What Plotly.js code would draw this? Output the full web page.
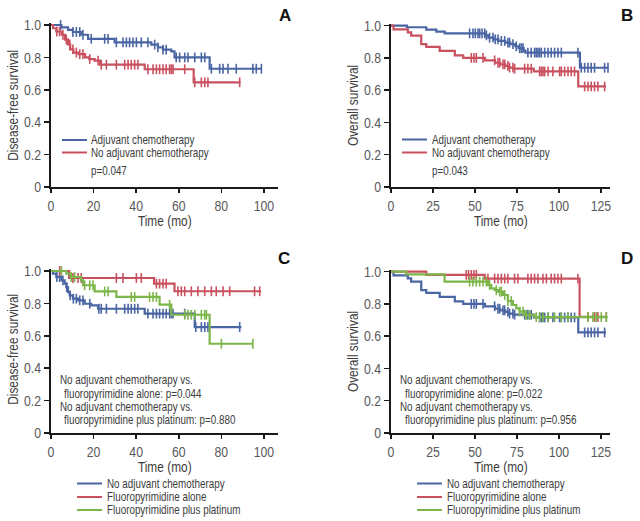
<!DOCTYPE html>
<html>
<head>
<meta charset="utf-8">
<script src="https://cdn.plot.ly/plotly-3.0.1.min.js"></script>
<style>html,body{margin:0;padding:0;background:#fff}#chart{width:640px;height:521px}</style>
</head>
<body>
<div id="chart"></div>
<script>
// ---------- DATA ----------
// Panel A: Disease-free survival, adjuvant vs no adjuvant
const aBlueT = [0, 4.9, 8.0, 10.3, 14.2, 17.4, 29.9, 47.1, 50.2, 52.6, 56.5, 58.0, 74.5, 98.8];
const aBlueS = [1.0, 0.986, 0.97, 0.957, 0.94, 0.915, 0.893, 0.879, 0.862, 0.848, 0.837, 0.80, 0.73, 0.73];
const aBlueCens = [4.5, 10.3, 11.9, 13.5, 15.0, 18.9, 25.2, 26.8, 30.7, 33.8, 35.4, 36.9, 38.5, 40.1, 42.4, 45.5, 48.7, 50.2, 52.6, 54.1, 58.8, 60.4, 62.8, 64.3, 67.5, 70.6, 72.2, 75.3, 79.2, 80.8, 83.1, 87.0, 94.8, 96.4, 98.8];
const aRedT = [0, 1, 2.5, 5, 6.5, 8, 9, 10.5, 13, 16, 18, 20.5, 23, 44, 67, 89];
const aRedS = [1, 0.98, 0.96, 0.94, 0.91, 0.88, 0.85, 0.83, 0.82, 0.80, 0.79, 0.78, 0.755, 0.727, 0.646, 0.646];
const aRedCens = [2.7, 4.0, 5.6, 7.2, 8.8, 10.3, 11.9, 13.5, 15.0, 18.2, 22.1, 23.6, 26.0, 30.7, 34.6, 36.2, 37.7, 39.3, 40.8, 45.5, 47.9, 49.5, 51.0, 52.6, 54.1, 55.7, 56.5, 57.3, 62.8, 67.5, 70.6, 72.2, 73.7, 88.6];

// Panel B: Overall survival, adjuvant vs no adjuvant
const bBlueT = [0, 9.5, 21, 27, 32, 56, 58, 61, 64, 68, 71, 74, 76, 79, 80, 112.5, 129.5];
const bBlueS = [1.0, 0.99, 0.975, 0.963, 0.952, 0.94, 0.925, 0.915, 0.905, 0.895, 0.885, 0.872, 0.86, 0.845, 0.833, 0.739, 0.739];
const bBlueCens = [46.8, 48.8, 50.2, 51.8, 52.8, 54.2, 55.8, 56.8, 58.7, 60.7, 62.1, 63.7, 65.7, 67.7, 69.6, 70.6, 72.6, 74.6, 76.6, 77.6, 78.6, 81.5, 83.5, 85.5, 86.5, 87.5, 88.5, 89.5, 91.5, 93.5, 95.4, 97.4, 99.4, 101.4, 111.3, 113.3, 115.3, 117.3, 119.2, 121.2, 127.2, 129.2];
const bRedT = [0, 1.5, 10, 12, 18, 21, 29, 38, 43, 56, 62, 65, 68, 70, 73, 85, 111.5, 128];
const bRedS = [1.0, 0.977, 0.958, 0.938, 0.885, 0.868, 0.843, 0.815, 0.80, 0.785, 0.77, 0.76, 0.75, 0.74, 0.733, 0.716, 0.623, 0.623];
const bRedCens = [47.8, 49.4, 50.8, 54.8, 61.7, 63.7, 64.7, 66.7, 67.7, 69.6, 70.6, 72.6, 73.6, 79.6, 81.5, 83.5, 88.5, 89.5, 90.5, 91.5, 93.5, 96.4, 100.4, 101.4, 103.4, 105.4, 107.3, 109.3, 115.3, 117.3, 119.2, 121.2, 123.2, 127.2];

// Panel C: Disease-free survival by regimen
const cBlueT = [0, 0.9, 2.5, 4.9, 6.4, 7.2, 8.0, 8.8, 10.3, 12.7, 15.8, 18.9, 22.1, 44, 67.5, 89.4];
const cBlueS = [1, 0.984, 0.963, 0.942, 0.922, 0.90, 0.87, 0.85, 0.829, 0.819, 0.798, 0.788, 0.767, 0.737, 0.654, 0.654];
const cBlueCens = [2.7, 4.0, 5.6, 7.4, 9.0, 10.5, 11.9, 13.5, 15.0, 18.2, 22.5, 23.6, 26.0, 30.7, 34.6, 36.2, 37.7, 39.3, 40.8, 45.5, 47.9, 49.5, 51.0, 52.6, 54.1, 55.7, 56.5, 57.3, 62.8, 68.0, 70.6, 72.2, 73.7, 88.6];
const cRedT = [0, 8.5, 48.4, 58, 98.7];
const cRedS = [1, 0.957, 0.922, 0.875, 0.875];
const cRedCens = [4.1, 10.3, 12.7, 14.2, 30.7, 33.8, 40.1, 42.4, 49.5, 51.0, 52.6, 54.1, 59.6, 61.2, 62.8, 65.9, 69.0, 72.2, 75.3, 77.6, 80.8, 83.9, 95.6, 98.0];
const cGreenT = [0, 7.2, 9.2, 14.2, 15.0, 20.5, 30.7, 51.0, 56.5, 74.5, 94.8];
const cGreenS = [1, 0.984, 0.963, 0.942, 0.912, 0.874, 0.84, 0.792, 0.73, 0.551, 0.551];
const cGreenCens = [4.9, 9.5, 11.1, 15.8, 18.2, 19.7, 25.2, 26.8, 37.7, 39.3, 46.3, 47.9, 49.5, 55.7, 62.8, 64.3, 65.9, 67.5, 70.6, 72.2, 73.0, 80.0, 94.8];

// Panel D: Overall survival by regimen
const dBlueT = bRedT, dBlueS = bRedS, dBlueCens = bRedCens;
const dRedT = [0, 21, 55.8, 112.3, 128.2];
const dRedS = [1, 0.98, 0.957, 0.72, 0.72];
const dRedCens = [44.8, 46.2, 47.8, 49.4, 50.8, 57.7, 61.7, 63.7, 65.7, 67.7, 69.6, 73.6, 75.6, 81.5, 83.5, 85.5, 87.5, 90.5, 92.5, 95.4, 97.4, 99.4, 101.4, 111.3, 117.3, 121.2, 123.2, 128.2];
const dGreenT = [0, 9.1, 31.9, 57.7, 59.7, 61.7, 63.7, 66.7, 69.6, 72.6, 74.6, 76.6, 79.6, 85.5, 129];
const dGreenS = [1.0, 0.983, 0.938, 0.917, 0.896, 0.885, 0.876, 0.855, 0.818, 0.793, 0.772, 0.752, 0.731, 0.718, 0.718];
const dGreenCens = [46.8, 48.8, 50.8, 52.8, 54.8, 56.8, 58.7, 62.7, 64.7, 65.7, 67.7, 69.6, 71.6, 76.6, 78.6, 80.6, 82.5, 86.5, 88.5, 90.5, 93.5, 97.4, 101.4, 105.4, 117.3, 120.2, 122.2, 125.2, 128.2];

const yTicks = [0, 0.2, 0.4, 0.6, 0.8, 1.0];
const yTickText = ['0', '0.2', '0.4', '0.6', '0.8', '1.0'];
const xTicksDFS = [0, 20, 40, 60, 80, 100];
const xTicksOS = [0, 25, 50, 75, 100, 125];

const legendAB = ['Adjuvant chemotherapy', 'No adjuvant chemotherapy'];
const legendCD = ['No adjuvant chemotherapy', 'Fluoropyrimidine alone', 'Fluoropyrimidine plus platinum'];
const pA = 'p=0.047', pB = 'p=0.043';
const noteC = ['No adjuvant chemotherapy vs.', 'fluoropyrimidine alone: p=0.044', 'No adjuvant chemotherapy vs.', 'fluoropyrimidine plus platinum: p=0.880'];
const noteD = ['No adjuvant chemotherapy vs.', 'fluoropyrimidine alone: p=0.022', 'No adjuvant chemotherapy vs.', 'fluoropyrimidine plus platinum: p=0.956'];

// ---------- STYLE ----------
const BLUE = '#4a65a3', RED = '#c9515f', GREEN = '#7cb549';
const FONT = '"Liberation Sans", Arial, sans-serif';
const SQUEEZE = 0.82; // narrow (condensed) look of the original typeface
const W = 640, H = 521;
const px = x => x / W, py = y => 1 - y / H;

function survAt(T, S, t) {
  let v = S[0];
  for (let i = 0; i < T.length; i++) { if (t >= T[i]) v = S[i]; }
  return v;
}
const traces = [];
function curve(T, S, C, color, xa, ya) {
  traces.push({x: T, y: S, mode: 'lines', line: {shape: 'hv', color: color, width: 2.2},
    xaxis: xa, yaxis: ya, showlegend: false, hoverinfo: 'skip'});
  traces.push({x: C, y: C.map(t => survAt(T, S, t)), mode: 'markers',
    marker: {symbol: 'line-ns-open', size: 7, color: color, line: {width: 1.6, color: color}},
    xaxis: xa, yaxis: ya, showlegend: false, hoverinfo: 'skip', cliponaxis: false});
}
curve(aBlueT, aBlueS, aBlueCens, BLUE, 'x', 'y');
curve(aRedT, aRedS, aRedCens, RED, 'x', 'y');
curve(bBlueT, bBlueS, bBlueCens, BLUE, 'x2', 'y2');
curve(bRedT, bRedS, bRedCens, RED, 'x2', 'y2');
curve(cBlueT, cBlueS, cBlueCens, BLUE, 'x3', 'y3');
curve(cRedT, cRedS, cRedCens, RED, 'x3', 'y3');
curve(cGreenT, cGreenS, cGreenCens, GREEN, 'x3', 'y3');
curve(dBlueT, dBlueS, dBlueCens, BLUE, 'x4', 'y4');
curve(dRedT, dRedS, dRedCens, RED, 'x4', 'y4');
curve(dGreenT, dGreenS, dGreenCens, GREEN, 'x4', 'y4');

const tickFont = {family: FONT, size: 15, color: '#58595b'};
function xax(d0, d1, range, ticks, anchor) {
  return {domain: [px(d0), px(d1)], range: range, anchor: anchor, tickvals: ticks, ticktext: ticks.map(String),
    showline: true, linecolor: '#1a1a1a', linewidth: 2, ticks: 'outside', ticklen: 4, tickwidth: 1.5,
    tickcolor: '#1a1a1a', showgrid: false, zeroline: false, fixedrange: true, tickfont: tickFont};
}
function yax(y0, y1, anchor) {
  return {domain: [py(y0), py(y1)], range: [0, 1.01], anchor: anchor, tickvals: yTicks, ticktext: yTickText,
    showline: true, linecolor: '#1a1a1a', linewidth: 2, ticks: 'outside', ticklen: 5, tickwidth: 1.5,
    tickcolor: '#1a1a1a', showgrid: false, zeroline: false, fixedrange: true, tickfont: tickFont};
}

const ann = [];
const shapes = [];
function text(x, y, t, opts) {
  ann.push(Object.assign({xref: 'paper', yref: 'paper', x: px(x), y: py(y), text: t, showarrow: false,
    xanchor: 'left', align: 'left', yanchor: 'middle', borderpad: 0, borderwidth: 0,
    font: {family: FONT, size: 12, color: '#3c3c3c'}}, opts || {}));
}
function legLine(x0, x1, y, color) {
  shapes.push({type: 'line', xref: 'paper', yref: 'paper', x0: px(x0), x1: px(x1), y0: py(y), y1: py(y),
    line: {color: color, width: 2}});
}
// panel letters
const bold = {family: FONT, size: 17, color: '#111'};
const letterOpts = {xanchor: 'center', align: 'center', font: bold};
text(285, 15, '<b>A</b>', letterOpts);
text(627, 15, '<b>B</b>', letterOpts);
text(284, 258, '<b>C</b>', letterOpts);
text(627, 258, '<b>D</b>', letterOpts);
// axis titles
const titleFont = {family: FONT, size: 14.5, color: '#3c3c3c'};
const cTitle = {xanchor: 'center', align: 'center', font: titleFont};
const vTitle = {xanchor: 'center', align: 'center', textangle: -90, font: titleFont};
text(164.5, 221, 'Time (mo)', cTitle);
text(500.5, 221, 'Time (mo)', cTitle);
text(164.5, 466.5, 'Time (mo)', cTitle);
text(500.5, 466.5, 'Time (mo)', cTitle);
text(13, 106, 'Disease-free survival', vTitle);
text(353, 106, 'Overall survival', vTitle);
text(13, 350, 'Disease-free survival', vTitle);
text(353, 352, 'Overall survival', vTitle);
// legends A/B
legLine(62, 87, 140, BLUE); legLine(62, 87, 152.5, RED);
text(91, 139.5, legendAB[0]); text(91, 152.5, legendAB[1]); text(91, 171, pA);
legLine(402, 427, 139.5, BLUE); legLine(402, 427, 152.5, RED);
text(431.5, 139.5, legendAB[0]); text(431.5, 152.5, legendAB[1]); text(431.5, 171, pB);
// notes C/D
const ny = [380, 393.5, 407, 420];
text(60, ny[0], noteC[0]); text(64, ny[1], noteC[1]);
text(60, ny[2], noteC[2]); text(64, ny[3], noteC[3]);
text(400, ny[0], noteD[0]); text(404.5, ny[1], noteD[1]);
text(400, ny[2], noteD[2]); text(404.5, ny[3], noteD[3]);
// bottom legends C/D
const cols = [BLUE, RED, GREEN];
const ly = [483.5, 497, 510];
for (let i = 0; i < 3; i++) {
  legLine(77, 102, ly[i], cols[i]); text(106.5, ly[i], legendCD[i]);
  legLine(417, 442, ly[i], cols[i]); text(446.5, ly[i], legendCD[i]);
}

const layout = {
  width: W, height: H, margin: {l: 0, r: 0, t: 0, b: 0},
  paper_bgcolor: '#fff', plot_bgcolor: 'rgba(0,0,0,0)', showlegend: false,
  xaxis: xax(51, 278, [0, 106.6], xTicksDFS, 'y'),
  yaxis: yax(187, 23.4, 'x'),
  xaxis2: xax(391, 610, [0, 130.4], xTicksOS, 'y2'),
  yaxis2: yax(187, 24, 'x2'),
  xaxis3: xax(51, 278, [0, 106.6], xTicksDFS, 'y3'),
  yaxis3: yax(433, 269.4, 'x3'),
  xaxis4: xax(391, 610, [0, 130.4], xTicksOS, 'y4'),
  yaxis4: yax(433, 270, 'x4'),
  annotations: ann, shapes: shapes
};

// condense text horizontally about its anchor point (original uses a narrow typeface)
function condense(gd) {
  gd.querySelectorAll('svg text').forEach(el => {
    const s = el.textContent.trim();
    if (['A', 'B', 'C', 'D'].includes(s)) return;
    const ax = parseFloat(el.getAttribute('x')) || 0;
    const t = el.getAttribute('transform') || '';
    el.setAttribute('transform', (t + ' translate(' + ax + ',0) scale(' + SQUEEZE + ',1) translate(' + (-ax) + ',0)').trim());
  });
}
Plotly.newPlot('chart', traces, layout, {staticPlot: true, displayModeBar: false})
  .then(gd => condense(gd));
</script>
</body>
</html>
